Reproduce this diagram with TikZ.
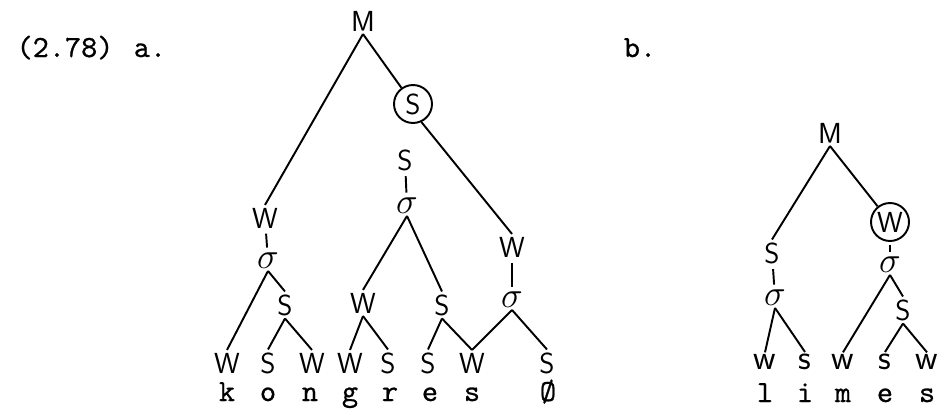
\documentclass[tikz,border=0pt]{standalone}
\usepackage{fontspec}
\newfontfamily\segfont{lmmono10-regular.otf}[FakeBold=0.7]
\usetikzlibrary{positioning}

\begin{document}
\begin{tikzpicture}[
  x=0.02cm, y=-0.02cm,
  lab/.style={font=\sffamily\fontsize{16.5}{18}\selectfont,inner sep=1.5pt},
  small/.style={font=\sffamily\fontsize{20}{22}\selectfont,inner sep=1pt},
  syl/.style={font=\fontsize{20}{22}\selectfont,inner sep=1pt},
  ring/.style={lab,circle,draw,line width=1.1pt,minimum size=0.76cm,inner sep=0pt},
  seg/.style={font=\segfont\fontsize{17.5}{19}\selectfont,inner sep=0pt,anchor=base},
  br/.style={line width=1.1pt},
  tick/.style={br,shorten <=1.5pt,shorten >=2pt}
]
  \useasboundingbox (0,0) rectangle (940,409);

  \node[seg] (num) at (65,57) {(2.78)};
  \node[seg] (tagA) at (150,57) {a.};
  \node[seg] (tagB) at (640,57) {b.};

  % (a) kongres
  \node[lab] (Ma) at (363,21) {M};
  \node[ring] (Sc) at (413,104) {S};
  \node[lab] (Wa1) at (265,218) {W};
  \node[syl] (sa1) at (268,261) {$\sigma$};
  \node[lab] (Sa2) at (285,305) {S};
  \node[lab] (Sa3) at (405,160) {S};
  \node[syl] (sa3) at (407,206) {$\sigma$};
  \node[lab] (Wa4) at (363,303) {W};
  \node[lab] (Sa5) at (442,305) {S};
  \node[lab] (Wa6) at (512,247) {W};
  \node[syl] (sa6) at (512,300) {$\sigma$};

  \node[lab] (la1) at (227,363) {W};
  \node[lab] (la2) at (268,363) {S};
  \node[lab] (la3) at (312,363) {W};
  \node[lab] (la4) at (350,363) {W};
  \node[lab] (la5) at (388,363) {S};
  \node[lab] (la6) at (428,363) {S};
  \node[lab] (la7) at (472,363) {W};
  \node[lab] (la8) at (547,363) {S};

  \node[seg] (k) at (227,401) {k};
  \node[seg] (o) at (268,401) {o};
  \node[seg] (n) at (310,401) {n};
  \node[seg] (g) at (350,401) {g};
  \node[seg] (r) at (390,401) {r};
  \node[seg] (e1) at (430,401) {e};
  \node[seg] (s1) at (472,401) {s};
  \node[seg] (zero) at (548,401) {\O};

  \draw[br] (Ma.south) -- (Wa1.north);
  \draw[br] (Ma.south) -- (Sc);
  \draw[tick] (Wa1) -- (sa1);
  \draw[br] (sa1.south) -- (la1.north);
  \draw[br] (sa1.south) -- (Sa2.north);
  \draw[br] (Sa2.south) -- (la2.north);
  \draw[br] (Sa2.south) -- (la3.north);
  \draw[br] (Sc.-65) -- (Wa6.north);
  \draw[tick] (Sa3) -- (sa3);
  \draw[br] (sa3.south) -- (Wa4.north);
  \draw[br] (sa3.south) -- (Sa5.north);
  \draw[br] (Wa4.south) -- (la4.north);
  \draw[br] (Wa4.south) -- (la5.north);
  \draw[br] (Sa5.south) -- (la6.north);
  \draw[br] (Sa5.south) -- (la7.north);
  \draw[tick] (Wa6) -- (sa6);
  \draw[br] (sa6.south) -- (la7.north);
  \draw[br] (sa6.south) -- (la8.north);

  % (b) limes
  \node[lab] (Mb) at (830,133) {M};
  \node[lab] (Sb1) at (772,253) {S};
  \node[syl] (sb1) at (775,298) {$\sigma$};
  \node[ring] (Wc) at (890,222) {W};
  \node[syl] (sb2) at (890,265) {$\sigma$};
  \node[lab] (Sb2) at (903,310) {S};

  \node[small] (lb1) at (765,362) {w};
  \node[small] (lb2) at (805,362) {s};
  \node[small] (lb3) at (843,362) {w};
  \node[small] (lb4) at (885,362) {s};
  \node[small] (lb5) at (927,362) {w};

  \node[seg] (l) at (765,402) {l};
  \node[seg] (i) at (805,402) {i};
  \node[seg] (m) at (843,402) {m};
  \node[seg] (e2) at (885,402) {e};
  \node[seg] (s2) at (927,402) {s};

  \draw[br] (Mb.south) -- (Sb1.north);
  \draw[br] (Mb.south) -- (Wc);
  \draw[tick] (Sb1) -- (sb1);
  \draw[br] (sb1.south) -- (lb1.north);
  \draw[br] (sb1.south) -- (lb2.north);
  \draw[tick] (Wc) -- (sb2);
  \draw[br] (sb2.south) -- (lb3.north);
  \draw[br] (sb2.south) -- (Sb2.north);
  \draw[br] (Sb2.south) -- (lb4.north);
  \draw[br] (Sb2.south) -- (lb5.north);
\end{tikzpicture}
\end{document}
